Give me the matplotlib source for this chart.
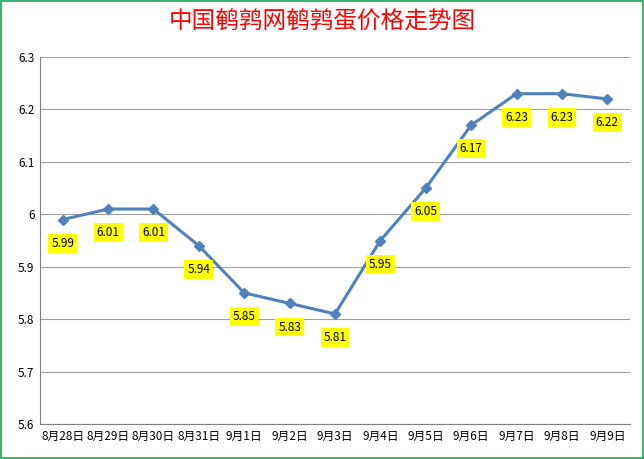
import numpy as np
import matplotlib.pyplot as plt
from matplotlib.patches import Rectangle

plt.rcParams['font.family'] = ['Noto Sans CJK SC', 'DejaVu Sans']

dates = ["8月28日", "8月29日", "8月30日", "8月31日", "9月1日", "9月2日", "9月3日",
         "9月4日", "9月5日", "9月6日", "9月7日", "9月8日", "9月9日"]
prices = [5.99, 6.01, 6.01, 5.94, 5.85, 5.83, 5.81, 5.95, 6.05, 6.17, 6.23, 6.23, 6.22]
yticks = [5.6, 5.7, 5.8, 5.9, 6.0, 6.1, 6.2, 6.3]
ytick_labels = ["5.6", "5.7", "5.8", "5.9", "6", "6.1", "6.2", "6.3"]

fig = plt.figure(figsize=(6.44, 4.59), dpi=100)
fig.patches.append(Rectangle((0.002, 0.002), 0.996, 0.996, transform=fig.transFigure,
                             fill=False, edgecolor='#3CB371', linewidth=1.5))
ax = fig.add_axes([40/644, 35/459, 590/644, 367/459])

x = np.arange(len(dates))
ax.plot(x, prices, color='#4F81BD', linewidth=2.2, marker='D', markersize=5.5)
for xi, v in zip(x, prices):
    ax.annotate(f"{v:.2f}", (xi, v), xytext=(0, -17), textcoords='offset points',
                ha='center', va='center', fontsize=8.5,
                bbox=dict(boxstyle='square,pad=0.25', facecolor='#FFFF00', edgecolor='none'))

ax.set_xlim(-0.5, len(dates) - 0.5)
ax.set_ylim(5.6, 6.3)
ax.set_yticks(yticks)
ax.set_yticklabels(ytick_labels, fontsize=8.5)
ax.set_xticks(x)
ax.set_xticklabels(dates, fontsize=8.5)
ax.tick_params(axis='both', length=0, pad=4)
ax.yaxis.grid(True, color='#A0A0A0', linewidth=0.8)
ax.set_axisbelow(True)
for s in ['top', 'right']:
    ax.spines[s].set_visible(False)
ax.spines['left'].set_color('#808080')
ax.spines['bottom'].set_color('#808080')

fig.text(0.5, 0.952, "中国鹌鹑网鹌鹑蛋价格走势图", ha='center', va='center',
         color='#FF0000', fontsize=17)

fig.savefig('out.png', dpi=100)
